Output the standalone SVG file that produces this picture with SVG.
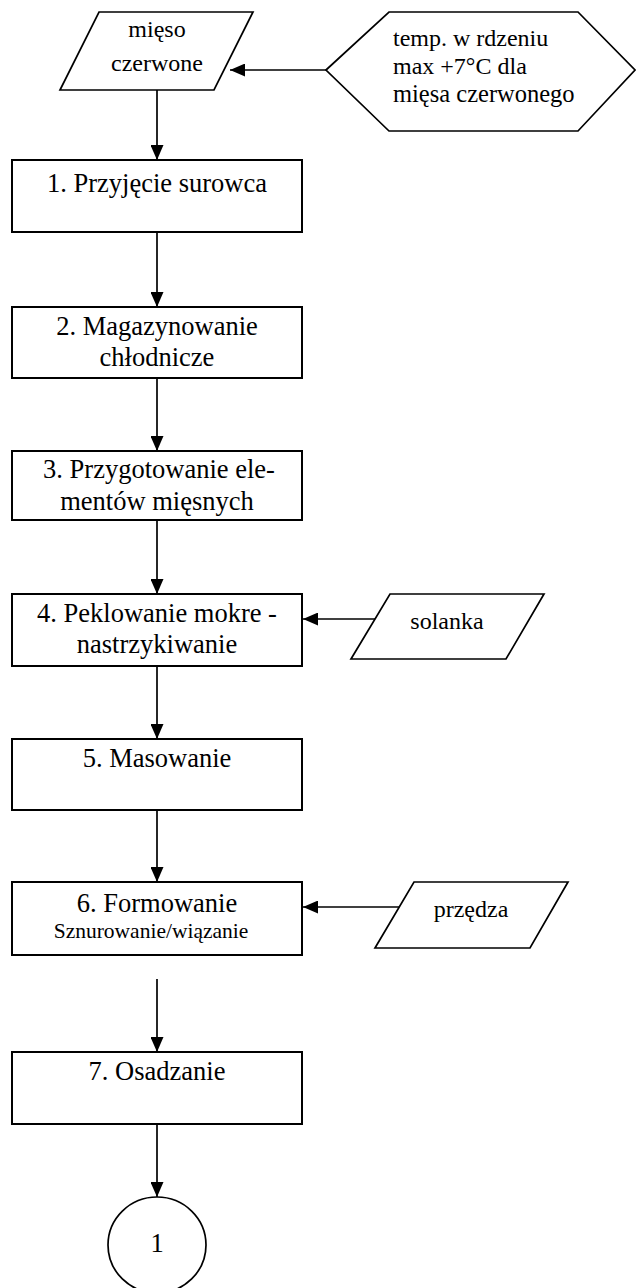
<svg xmlns="http://www.w3.org/2000/svg" width="636" height="1288" viewBox="0 0 636 1288">
<style>
.box{fill:#fff;stroke:#000;stroke-width:2}
.io{fill:#fff;stroke:#000;stroke-width:1.7}
.t{font-family:"Liberation Serif","Times New Roman",serif;font-size:26.5px;fill:#000;text-anchor:middle}
.s{font-family:"Liberation Serif","Times New Roman",serif;font-size:24px;fill:#000}
.c{fill:none;stroke:#000;stroke-width:1.7}
</style>
<defs>
<marker id="ah" markerUnits="userSpaceOnUse" markerWidth="15" markerHeight="13" refX="15" refY="6.5" orient="auto">
<path d="M0,0 L15,6.5 L0,13 z" fill="#000"/>
</marker>
</defs>
<rect width="636" height="1288" fill="#fff"/>
<g id="connectors">
<line class="c" x1="326" y1="70" x2="230" y2="70" marker-end="url(#ah)"/>
<line class="c" x1="157" y1="90" x2="157" y2="160" marker-end="url(#ah)"/>
<line class="c" x1="157" y1="232" x2="157" y2="307" marker-end="url(#ah)"/>
<line class="c" x1="157" y1="378" x2="157" y2="451" marker-end="url(#ah)"/>
<line class="c" x1="157" y1="520" x2="157" y2="594" marker-end="url(#ah)"/>
<line class="c" x1="375" y1="619" x2="303" y2="619" marker-end="url(#ah)"/>
<line class="c" x1="157" y1="666" x2="157" y2="739" marker-end="url(#ah)"/>
<line class="c" x1="157" y1="810" x2="157" y2="882" marker-end="url(#ah)"/>
<line class="c" x1="399" y1="907" x2="303" y2="907" marker-end="url(#ah)"/>
<line class="c" x1="157" y1="979" x2="157" y2="1052" marker-end="url(#ah)"/>
<line class="c" x1="157" y1="1124" x2="157" y2="1197" marker-end="url(#ah)"/>
</g>
<g id="n-mieso">
<polygon class="io" points="99,12 253,12 214,90 60,90"/>
<text class="s" x="157" y="37" text-anchor="middle">mięso</text>
<text class="s" x="157" y="71" text-anchor="middle">czerwone</text>
</g>
<g id="n-temp">
<polygon class="io" points="326,70 389,12 578,12 635,70 578,131 389,131"/>
<text class="s" x="393" y="46">temp. w rdzeniu</text>
<text class="s" x="393" y="74">max +7°C dla</text>
<text class="s" x="393" y="102" style="font-size:24.5px">mięsa czerwonego</text>
</g>
<g id="n1">
<rect class="box" x="12" y="160" width="290" height="72"/>
<text class="t" x="157" y="192">1. Przyjęcie surowca</text>
</g>
<g id="n2">
<rect class="box" x="12" y="307" width="290" height="71"/>
<text class="t" x="157" y="335">2. Magazynowanie</text>
<text class="t" x="157" y="366">chłodnicze</text>
</g>
<g id="n3">
<rect class="box" x="12" y="451" width="290" height="69"/>
<text class="t" x="159" y="478">3. Przygotowanie ele-</text>
<text class="t" x="157" y="510">mentów mięsnych</text>
</g>
<g id="n4">
<rect class="box" x="12" y="594" width="290" height="72"/>
<text class="t" x="157" y="622">4. Peklowanie mokre -</text>
<text class="t" x="157" y="653">nastrzykiwanie</text>
</g>
<g id="n-solanka">
<polygon class="io" points="390,594 544,594 506,659 351,659"/>
<text class="s" x="447" y="629" text-anchor="middle">solanka</text>
</g>
<g id="n5">
<rect class="box" x="12" y="739" width="290" height="71"/>
<text class="t" x="157" y="767">5. Masowanie</text>
</g>
<g id="n6">
<rect class="box" x="12" y="882" width="290" height="73"/>
<text class="t" x="157" y="912">6. Formowanie</text>
<text class="t" x="151" y="938" style="font-size:21.5px">Sznurowanie/wiązanie</text>
</g>
<g id="n-przedza">
<polygon class="io" points="414,882 568,882 530,948 375,948"/>
<text class="s" x="471" y="917" text-anchor="middle">przędza</text>
</g>
<g id="n7">
<rect class="box" x="12" y="1052" width="290" height="72"/>
<text class="t" x="157" y="1080">7. Osadzanie</text>
</g>
<g id="n-conn1">
<ellipse class="io" cx="157" cy="1245" rx="49" ry="48"/>
<text class="t" x="157" y="1252">1</text>
</g>
</svg>
